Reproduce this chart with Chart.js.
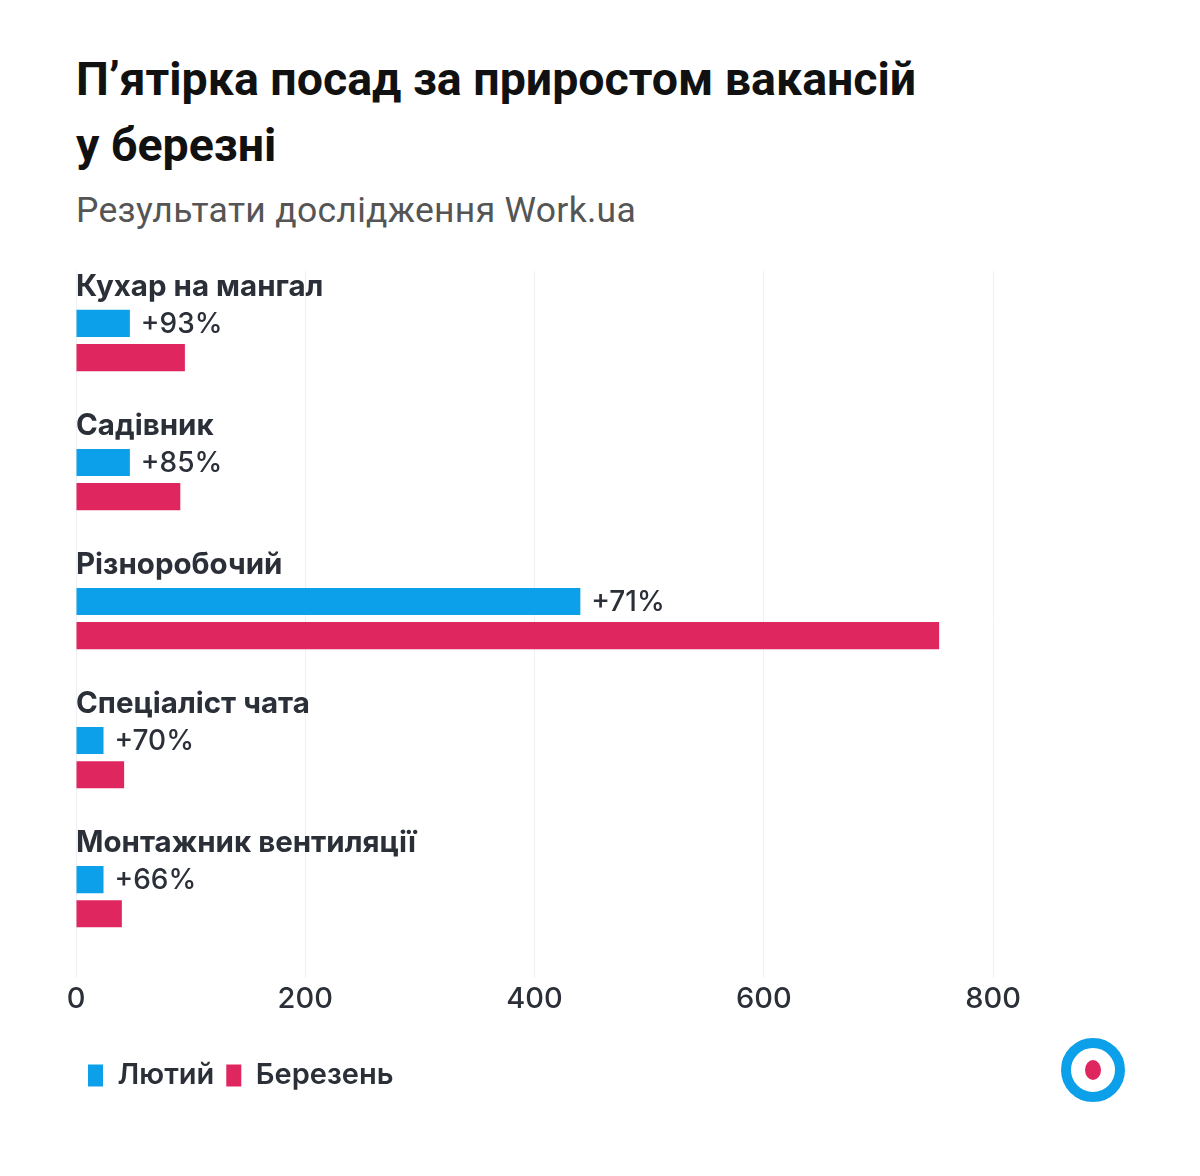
<!DOCTYPE html>
<html>
<head>
<meta charset="utf-8">
<script src="https://cdn.jsdelivr.net/npm/chart.js@4"></script>
<style>
  html, body { margin: 0; padding: 0; background: #fff; }
  #wrap { position: relative; width: 1200px; height: 1176px; overflow: hidden; }
  #title { position: absolute; left: 76px; top: 46px; font: 700 46.5px Roboto, sans-serif; line-height: 66px; color: #111; }
  #sub { position: absolute; left: 76px; top: 189px; font: 400 35.5px Roboto, sans-serif; letter-spacing: 0.3px; color: #555; }
  #chart { position: absolute; left: 0; top: 0; }
  #logo { position: absolute; left: 1061px; top: 1038px; width: 44px; height: 44px; border: 10px solid #0ba0e9; border-radius: 50%; background: #fff; }
  #logo div { position: absolute; left: 14px; top: 12px; width: 16px; height: 20px; border-radius: 50%; background: #e0265f; }
</style>
</head>
<body>
<div id="wrap">
  <div id="title">П’ятірка посад за приростом вакансій<br>у березні</div>
  <div id="sub">Результати дослідження Work.ua</div>
  <canvas id="chart" width="1200" height="1176"></canvas>
  <div id="logo"><div></div></div>
</div>
<script>
/* ── DATA ── */
var categories = ['Кухар на мангал', 'Садівник', 'Різноробочий', 'Спеціаліст чата', 'Монтажник вентиляції'];
var february = [47, 47, 440, 24, 24];
var march = [95, 91, 753, 42, 40];
var growth = ['+93%', '+85%', '+71%', '+70%', '+66%'];
var xTicks = [0, 200, 400, 600, 800];

var BLUE = '#0ba0e9', RED = '#e0265f', TEXT = '#2b2f38';

/* labels above each group + growth after blue bar */
var barLabels = {
  id: 'barLabels',
  afterDatasetsDraw: function (chart) {
    var ctx = chart.ctx;
    var blue = chart.getDatasetMeta(0).data;
    ctx.save();
    ctx.textBaseline = 'middle';
    ctx.fillStyle = TEXT;
    blue.forEach(function (bar, i) {
      ctx.textAlign = 'left';
      ctx.font = '700 29.5px Inter, sans-serif';
      ctx.fillText(categories[i], chart.chartArea.left, bar.y - 36);
      ctx.font = '500 28px Inter, sans-serif';
      ctx.fillText(growth[i], bar.x + 11, bar.y + 1);
    });
    ctx.restore();
  }
};

new Chart(document.getElementById('chart'), {
  type: 'bar',
  data: {
    labels: categories,
    datasets: [
      { label: 'Лютий', data: february, backgroundColor: BLUE },
      { label: 'Березень', data: march, backgroundColor: RED }
    ]
  },
  options: {
    indexAxis: 'y',
    responsive: false,
    animation: false,
    categoryPercentage: 0.492,
    barPercentage: 0.794,
    layout: { padding: { top: 271, left: 76, right: 207, bottom: 76 } },
    scales: {
      y: { display: false },
      x: {
        min: 0, max: 800,
        afterBuildTicks: function (scale) { scale.ticks = xTicks.map(function (v) { return { value: v }; }); },
        afterFit: function (scale) { scale.height += 28; },
        grid: { color: '#eef0f3', tickLength: 12, tickColor: '#eef0f3' },
        border: { display: false },
        ticks: { color: TEXT, font: { family: 'Inter', size: 29, weight: '500' }, padding: 4 }
      }
    },
    plugins: {
      legend: {
        position: 'bottom',
        align: 'start',
        labels: {
          boxWidth: 15, boxHeight: 22, padding: 12,
          color: TEXT, font: { family: 'Inter', size: 29, weight: '600' }
        }
      },
      tooltip: { enabled: false }
    }
  },
  plugins: [barLabels]
});
</script>
</body>
</html>
